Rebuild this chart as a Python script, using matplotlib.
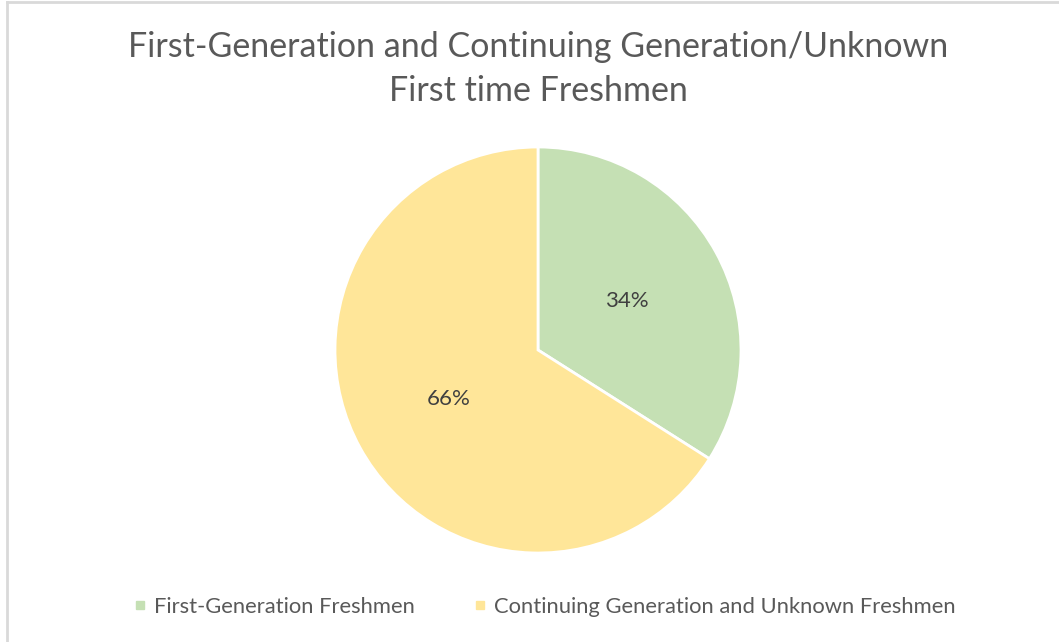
import matplotlib.pyplot as plt
from matplotlib.lines import Line2D

# data
labels = ['First-Generation Freshmen', 'Continuing Generation and Unknown Freshmen']
shares = [34, 66]
colors = ['#C5E0B4', '#FFE699']

plt.rcParams['font.family'] = ['Lato', 'DejaVu Sans']

fig = plt.figure(figsize=(10.59, 6.42), dpi=100)
W, H = 1059, 642

# pie area: center (538, 350), radius 203 px
cx, cy, r = 538, 350, 203
ax = fig.add_axes([(cx - r) / W, (H - cy - r) / H, 2 * r / W, 2 * r / H])
wedges, texts, autotexts = ax.pie(
    shares, colors=colors, startangle=90, counterclock=False,
    autopct='%1.0f%%', pctdistance=0.5,
    wedgeprops=dict(edgecolor='white', linewidth=2),
    textprops=dict(color='#404040', fontsize=16))
ax.set_xlim(-1.0, 1.0)
ax.set_ylim(-1.0, 1.0)
ax.set_aspect('equal')

fig.text(538 / W, 1 - 47 / H, 'First-Generation and Continuing Generation/Unknown',
         ha='center', va='center', fontsize=24.5, color='#595959')
fig.text(538 / W, 1 - 91 / H, 'First time Freshmen',
         ha='center', va='center', fontsize=24.5, color='#595959')

handles = [Line2D([], [], marker='s', linestyle='none', markersize=6,
                  markerfacecolor=c, markeredgecolor=c) for c in colors]
fig.legend(handles, labels, loc='center', bbox_to_anchor=(544 / W, 1 - 607 / H),
           ncol=2, frameon=False, fontsize=15.8, labelcolor='#595959',
           handletextpad=0.3, columnspacing=2.6, handlelength=0.7)

# chart border (only top and left edges visible)
fig.add_artist(Line2D([6.5 / W, 6.5 / W], [0, 1 - 2 / H], color='#D9D9D9', linewidth=2,
                      transform=fig.transFigure))
fig.add_artist(Line2D([6.5 / W, 1], [1 - 2 / H, 1 - 2 / H], color='#D9D9D9', linewidth=2,
                      transform=fig.transFigure))

plt.savefig('out.png', dpi=100)
